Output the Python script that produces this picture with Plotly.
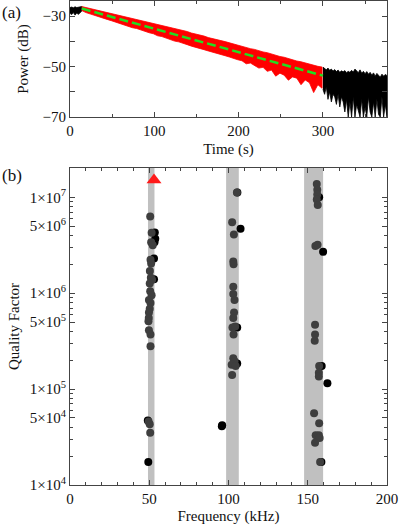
import plotly.graph_objects as go

# ---------------- Panel (a): ring-down trace (envelopes) -------------
head_t = [0, 2, 4, 6, 8, 10, 12, 14]
head_upper = [-26.6, -26.4, -26.7, -26.3, -26.6, -26.4, -26.5, -26.2]
head_lower = [-28.9, -29.4, -28.6, -29.6, -28.8, -29.3, -28.7, -28.0]

red_t = [14, 19, 24, 29, 34, 39, 44, 49, 54, 59, 64, 69, 74, 79, 84, 89, 94, 99, 104, 109,
         114, 119, 124, 129, 134, 139, 144, 149, 154, 159, 164, 169, 174, 179, 184, 189, 194,
         199, 204, 209, 214, 219, 224, 229, 234, 239, 244, 249, 254, 259, 264, 269, 274, 279,
         284, 289, 294, 299]
red_upper = [-26.2, -26.6, -27.0, -27.3, -27.6, -28.1, -28.4, -28.9, -29.2, -29.6, -30.1,
             -30.3, -30.9, -31.2, -31.6, -32.0, -32.5, -32.8, -33.3, -33.6, -34.1, -34.5,
             -34.9, -35.4, -35.8, -36.1, -36.7, -37.0, -37.6, -37.9, -38.5, -38.8, -39.3,
             -39.7, -40.1, -40.6, -41.0, -41.6, -41.9, -42.5, -42.9, -43.2, -43.8, -44.2,
             -44.5, -45.1, -45.4, -46.0, -46.3, -46.9, -47.2, -47.8, -48.1, -48.6, -48.9,
             -49.5, -49.9, -50.2]
red_lower = [-27.8, -28.6, -29.0, -29.7, -30.1, -30.8, -31.3, -31.8, -32.4, -32.9, -33.3,
             -34.0, -34.6, -34.9, -35.6, -36.0, -36.6, -37.0, -37.8, -38.1, -38.5, -39.2,
             -39.9, -40.2, -40.7, -41.3, -41.9, -42.3, -42.9, -43.3, -43.8, -44.3, -44.9,
             -45.3, -45.7, -46.2, -46.9, -47.3, -47.7, -48.9, -48.6, -49.5, -50.6, -50.3,
             -51.9, -51.4, -53.8, -52.6, -53.4, -55.4, -54.1, -54.6, -57.2, -55.3, -56.4,
             -60.3, -57.2, -58.6]

tail_t = [300, 302, 304, 306, 308, 310, 312, 314, 316, 318, 320, 322, 324, 326, 328, 330,
          332, 334, 336, 338, 340, 342, 344, 346, 348, 350, 352, 354, 356, 358, 360, 362,
          364, 366, 368, 370, 372, 374, 376]
tail_upper = [-50.2, -50.8, -51.3, -50.6, -51.5, -51.0, -51.8, -51.2, -52.0, -51.4, -52.3,
              -51.7, -52.1, -51.6, -52.4, -51.9, -52.3, -51.5, -52.2, -51.0, -51.8, -52.4,
              -51.3, -52.6, -51.9, -52.8, -52.0, -53.0, -52.3, -53.4, -52.5, -53.8, -52.7,
              -53.3, -54.2, -53.0, -53.8, -53.1, -53.6]
tail_lower = [-59, -61, -58, -63, -60, -64, -61, -62, -65, -61, -66, -62, -64, -68, -63,
              -70, -64, -70, -62, -70, -65, -67, -70, -63, -70, -66, -70, -62, -68, -70,
              -64, -70, -63, -69, -70, -62, -70, -65, -70]

fit_t = [14, 300]
fit_db = [-27.0, -53.6]

# ---------------- Panel (b): quality factors --------------------------------------
band_lo = [49.2, 98.5, 147.7]
band_hi = [53.3, 106.5, 159.7]

gray_f = [50.6, 51.5, 51.2, 52.2, 50.8, 51.2, 50.4, 51.0, 51.8, 50.3, 50.6, 51.5, 49.8,
          50.8, 50.3, 49.8, 49.7, 49.5, 49.8, 50.8, 50.8, 49.6, 50.3, 50.6,
          105.3, 102.3, 103.4, 103.0, 103.2, 103.0, 103.0, 103.8, 103.5, 103.0, 102.5,
          104.2, 103.2, 103.0, 103.8, 102.0, 104.5, 102.3,
          155.7, 156.0, 156.0, 155.7, 156.3, 154.8, 156.2, 154.6, 154.6, 154.4, 157.2,
          157.0, 157.0, 154.0, 157.2, 155.0, 157.0, 157.5, 154.6, 157.8]
gray_q = [6.3e6, 4.27e6, 3.39e6, 3.16e6, 2.24e6, 2.04e6, 1.70e6, 1.45e6, 1.38e6, 1.26e6,
          1.05e6, 9.5e5, 8.5e5, 7.9e5, 6.9e5, 6.3e5, 5.5e5, 5.1e5, 4.1e5, 3.7e5, 2.8e5,
          4.6e4, 4.3e4, 3.5e4,
          1.12e7, 5.5e6, 4.1e6, 2.14e6, 2.0e6, 1.17e6, 9.8e5, 8.5e5, 6.3e5, 5.5e5, 4.4e5,
          4.5e5, 3.7e5, 2.1e5, 1.95e5, 1.8e5, 1.74e5, 1.4e5,
          1.38e7, 1.2e7, 1.07e7, 9.5e6, 8.3e6, 3.1e6, 3.2e6, 4.7e5, 3.7e5, 3.2e5, 1.74e5,
          1.48e5, 1.35e5, 5.6e4, 4.4e4, 3.3e4, 3.3e4, 3.1e4, 2.75e4, 1.74e4]

black_f = [53.5, 53.8, 53.3, 53.0, 53.0, 49.1, 49.4, 105.6, 107.6, 105.5, 105.5, 96.0,
           95.8, 159.7, 158.8, 162.4, 158.6, 157.2]
black_q = [4.3e6, 3.7e6, 3.4e6, 2.3e6, 1.4e6, 4.7e4, 1.74e4, 1.12e7, 4.7e6, 4.4e5, 1.85e5,
           4.2e4, 4.1e4, 2.7e6, 1.74e5, 1.15e5, 1.74e4, 1.0e7]

tri_f = [53.0]
tri_q = [1.52e7]

q_tickvals = [1e4, 5e4, 1e5, 5e5, 1e6, 5e6, 1e7]
q_ticktext = ["1\u00d710<sup>4</sup>", "5\u00d710<sup>4</sup>", "1\u00d710<sup>5</sup>",
              "5\u00d710<sup>5</sup>", "1\u00d710<sup>6</sup>", "5\u00d710<sup>6</sup>",
              "1\u00d710<sup>7</sup>"]
q_minor = [m * 10 ** e for e in (4, 5, 6) for m in (2, 3, 4, 6, 7, 8, 9)] + [2e7]

FONT = "Liberation Serif, Times New Roman, serif"
TICKFONT = dict(family=FONT, size=15, color="#111111")
TITLEFONT = dict(family=FONT, size=15, color="#111111")
fig = go.Figure()


def band(t, up, lo, color, xa, ya):
    fig.add_trace(go.Scatter(x=list(t) + list(t)[::-1], y=list(up) + list(lo)[::-1],
                             fill="toself", fillcolor=color, mode="lines",
                             line=dict(color=color, width=0.8), xaxis=xa, yaxis=ya,
                             hoverinfo="skip", showlegend=False))


band(head_t, head_upper, head_lower, "#000000", "x", "y")
band(red_t, red_upper, red_lower, "#ff0000", "x", "y")
band(tail_t, tail_upper, tail_lower, "#000000", "x", "y")
fig.add_trace(go.Scatter(x=fit_t, y=fit_db, mode="lines",
                         line=dict(color="#22dd22", width=2.5, dash="9px,4px"),
                         xaxis="x", yaxis="y", showlegend=False))

fig.add_trace(go.Scatter(x=black_f, y=black_q, mode="markers",
                         marker=dict(color="#000000", size=8), xaxis="x2", yaxis="y2",
                         showlegend=False))
fig.add_trace(go.Scatter(x=gray_f, y=gray_q, mode="markers",
                         marker=dict(color="#3e3e3e", size=8), xaxis="x2", yaxis="y2",
                         showlegend=False))
fig.add_trace(go.Scatter(x=tri_f, y=tri_q, mode="markers",
                         marker=dict(color="#ff1a1a", size=13, symbol="triangle-up"),
                         xaxis="x2", yaxis="y2", showlegend=False))

for lo, hi in zip(band_lo, band_hi):
    fig.add_shape(type="rect", xref="x2", yref="y2 domain", x0=lo, x1=hi, y0=0, y1=1,
                  fillcolor="#c0c0c0", line_width=0, layer="below")

axis_common = dict(showline=True, linecolor="#444444", linewidth=1, mirror="allticks",
                   ticks="inside", tickcolor="#444444", showgrid=False, zeroline=False,
                   automargin=False, tickfont=TICKFONT)

fig.update_layout(
    width=399, height=530,
    margin=dict(l=70, r=12, t=1, b=45),
    plot_bgcolor="white", paper_bgcolor="white",
    font=dict(family=FONT, size=15, color="#111111"),
    xaxis=dict(domain=[0, 1], anchor="y", range=[0, 376],
               tickvals=[0, 100, 200, 300], ticklen=5,
               minor=dict(tickvals=[50, 150, 250, 350], ticks="inside", ticklen=3,
                          tickcolor="#444444"),
               title=dict(text="Time (s)", standoff=5, font=TITLEFONT),
               **axis_common),
    yaxis=dict(domain=[0.7603, 1], anchor="x", range=[-70, -24],
               tickvals=[-70, -50, -30], ticklen=5,
               minor=dict(tickvals=[-60, -40], ticks="inside", ticklen=5,
                          tickcolor="#444444"),
               title=dict(text="Power (dB)", standoff=10, font=TITLEFONT),
               **axis_common),
    xaxis2=dict(domain=[0, 1], anchor="y2", range=[0, 200],
                tickvals=[0, 50, 100, 150, 200], ticklen=5,
                minor=dict(dtick=10, ticks="inside", ticklen=3, tickcolor="#444444"),
                title=dict(text="Frequency (kHz)", standoff=4, font=TITLEFONT),
                **axis_common),
    yaxis2=dict(domain=[0, 0.655], anchor="x2", type="log", range=[4, 7.306],
                tickvals=q_tickvals, ticktext=q_ticktext, ticklen=5,
                minor=dict(tickvals=q_minor, ticks="inside", ticklen=3,
                           tickcolor="#444444"),
                title=dict(text="Quality Factor", standoff=6, font=TITLEFONT),
                **axis_common),
    annotations=[
        dict(text="(a)", xref="paper", yref="paper", x=-0.222, y=1.0, xanchor="left",
             yanchor="top", showarrow=False, font=dict(family=FONT, size=17)),
        dict(text="(b)", xref="paper", yref="paper", x=-0.222, y=0.664, xanchor="left",
             yanchor="top", showarrow=False, font=dict(family=FONT, size=17)),
    ],
)

fig.write_html("out.html", config={"displayModeBar": False},
               post_script="document.body.style.margin='0px';")
